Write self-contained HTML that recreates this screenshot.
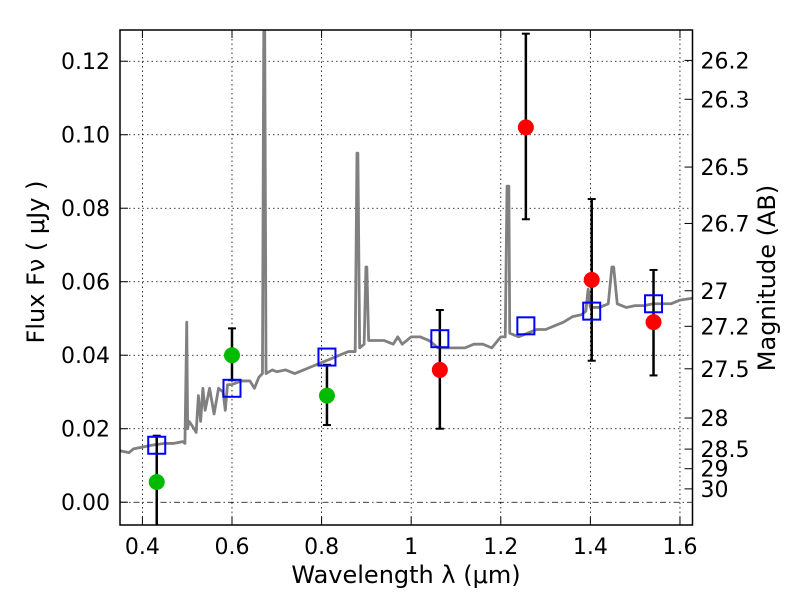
<!DOCTYPE html>
<html><head><meta charset="utf-8"><style>
body{margin:0;background:#fff;}
svg{display:block;font-family:"DejaVu Sans","Liberation Sans",sans-serif;}
</style></head><body>
<svg id="chart" width="800" height="600"></svg>
<script>
const specX=[0.35,0.37,0.38,0.40,0.42,0.45,0.47,0.49,0.495,0.499,0.501,0.504,0.51,0.52,0.525,0.53,0.535,0.54,0.55,0.56,0.57,0.58,0.585,0.59,0.60,0.62,0.64,0.65,0.66,0.668,0.671,0.673,0.676,0.69,0.70,0.72,0.74,0.76,0.78,0.80,0.82,0.84,0.86,0.875,0.879,0.881,0.885,0.895,0.899,0.901,0.905,0.92,0.94,0.96,0.97,0.98,1.0,1.02,1.04,1.06,1.08,1.10,1.12,1.14,1.16,1.18,1.20,1.21,1.214,1.218,1.22,1.24,1.26,1.28,1.30,1.32,1.34,1.36,1.38,1.39,1.395,1.40,1.42,1.44,1.448,1.452,1.46,1.48,1.50,1.52,1.54,1.56,1.58,1.60,1.628];
const specY=[0.014,0.0135,0.0145,0.015,0.0155,0.016,0.016,0.0165,0.016,0.049,0.02,0.022,0.021,0.019,0.029,0.022,0.031,0.025,0.031,0.024,0.031,0.030,0.025,0.032,0.032,0.033,0.033,0.031,0.034,0.035,0.13,0.13,0.035,0.036,0.0355,0.036,0.035,0.036,0.037,0.038,0.039,0.040,0.041,0.041,0.095,0.095,0.042,0.043,0.064,0.064,0.044,0.044,0.044,0.043,0.045,0.043,0.045,0.045,0.044,0.042,0.042,0.042,0.042,0.043,0.043,0.042,0.045,0.045,0.086,0.086,0.046,0.045,0.046,0.047,0.047,0.048,0.049,0.0505,0.051,0.052,0.058,0.053,0.053,0.054,0.064,0.064,0.054,0.053,0.0535,0.0535,0.054,0.054,0.054,0.055,0.0555];
const greenX=[0.432,0.600,0.812];
const greenY=[0.0055,0.040,0.029];
const greenLo=[-0.01,0.0332,0.021];
const greenHi=[0.0181,0.0473,0.0374];
const redX=[1.064,1.256,1.403,1.541];
const redY=[0.036,0.102,0.0605,0.049];
const redLo=[0.020,0.077,0.0385,0.0345];
const redHi=[0.0523,0.1275,0.0825,0.0632];
const modelX=[0.432,0.600,0.812,1.064,1.256,1.403,1.541];
const modelY=[0.0155,0.031,0.0395,0.0445,0.048,0.052,0.054];
const xTicks=[0.4,0.6,0.8,1.0,1.2,1.4,1.6];
const xTickLabels=["0.4","0.6","0.8","1","1.2","1.4","1.6"];
const yTicks=[0,0.02,0.04,0.06,0.08,0.10,0.12];
const yTickLabels=["0.00","0.02","0.04","0.06","0.08","0.10","0.12"];
const magTicks=[26.2,26.3,26.5,26.7,27,27.2,27.5,28,28.5,29,30];
const magLabels=["26.2","26.3","26.5","26.7","27","27.2","27.5","28","28.5","29","30"];

const L=120,R=692.5,T=30,B=525,xmin=0.35,xmax=1.628,ymin=-0.0062,ymax=0.1285;
const X=v=>L+(v-xmin)/(xmax-xmin)*(R-L);
const Y=v=>B-(v-ymin)/(ymax-ymin)*(B-T);
const NS="http://www.w3.org/2000/svg";
const svg=document.getElementById('chart');
function mk(tag,attrs,parent){const e=document.createElementNS(NS,tag);for(const k in attrs)e.setAttribute(k,attrs[k]);(parent||svg).appendChild(e);return e;}
const defs=mk('defs',{});const cp=mk('clipPath',{id:'clip'},defs);mk('rect',{x:L,y:T,width:R-L,height:B-T},cp);
const grid=mk('g',{});


xTicks.forEach(v=>{mk('line',{x1:X(v),x2:X(v),y1:T,y2:B,stroke:'#000','stroke-width':0.8,'stroke-dasharray':'1.5,3'},grid);});
yTicks.forEach(v=>{mk('line',{x1:L,x2:R,y1:Y(v),y2:Y(v),stroke:'#000','stroke-width':0.8,'stroke-dasharray':v===0?'6,3,1.5,3':'1.5,3'},grid);});
const plot=mk('g',{'clip-path':'url(#clip)'});
const sp=mk('polyline',{points:specX.map((x,i)=>X(x)+','+Y(specY[i])).join(' '),fill:'none',stroke:'#808080','stroke-width':2.8,'stroke-linejoin':'round','stroke-linecap':'round'},plot);


function errs(xs,lo,hi,name){xs.forEach((x,i)=>{const g=mk('g',{},plot);


mk('line',{x1:X(x),x2:X(x),y1:Y(lo[i]),y2:Y(hi[i]),stroke:'#000','stroke-width':2.5},g);
mk('line',{x1:X(x)-4,x2:X(x)+4,y1:Y(hi[i]),y2:Y(hi[i]),stroke:'#000','stroke-width':2},g);
if(lo[i]>ymin)mk('line',{x1:X(x)-4,x2:X(x)+4,y1:Y(lo[i]),y2:Y(lo[i]),stroke:'#000','stroke-width':2},g);});}
errs(greenX,greenLo,greenHi,'green');errs(redX,redLo,redHi,'red');
modelX.forEach((x,i)=>{const r=mk('rect',{x:X(x)-8.5,y:Y(modelY[i])-8.5,width:17,height:17,fill:'none',stroke:'#0000ff','stroke-width':2},plot);

});
greenX.forEach((x,i)=>{const c=mk('circle',{cx:X(x),cy:Y(greenY[i]),r:8,fill:'#00bb00'},plot);

});
redX.forEach((x,i)=>{const c=mk('circle',{cx:X(x),cy:Y(redY[i]),r:8,fill:'#ff0000'},plot);

});
const frame=mk('rect',{x:L,y:T,width:R-L,height:B-T,fill:'none',stroke:'#000','stroke-width':1.5});


xTicks.forEach((v,i)=>{mk('line',{x1:X(v),x2:X(v),y1:B,y2:B-8,stroke:'#000'});mk('line',{x1:X(v),x2:X(v),y1:T,y2:T+8,stroke:'#000'});
const t=mk('text',{x:X(v),y:B+29,'text-anchor':'middle','font-size':22});t.textContent=xTickLabels[i];

});
yTicks.forEach((v,i)=>{mk('line',{x1:L,x2:L+8,y1:Y(v),y2:Y(v),stroke:'#000'});
const t=mk('text',{x:L-10,y:Y(v)+8,'text-anchor':'end','font-size':22});t.textContent=yTickLabels[i];

});
magTicks.forEach((m,i)=>{const f=Math.pow(10,(23.9-m)/2.5);const y=Y(f);
mk('line',{x1:R,x2:R-8,y1:y,y2:y,stroke:'#000'});
const t=mk('text',{x:R+8,y:y+8,'font-size':22});t.textContent=magLabels[i];

});
const xl=mk('text',{x:406,y:583,'text-anchor':'middle','font-size':24});
xl.textContent='Wavelength  λ (μm)';


const yl=mk('text',{x:0,y:0,'text-anchor':'middle','font-size':24,transform:'translate(44,262) rotate(-90)'});
yl.textContent='Flux  Fν  (  μJy )';


const rl=mk('text',{x:0,y:0,'text-anchor':'middle','font-size':24,transform:'translate(775,278) rotate(-90)'});
rl.textContent='Magnitude (AB)';


</script>
</body></html>
